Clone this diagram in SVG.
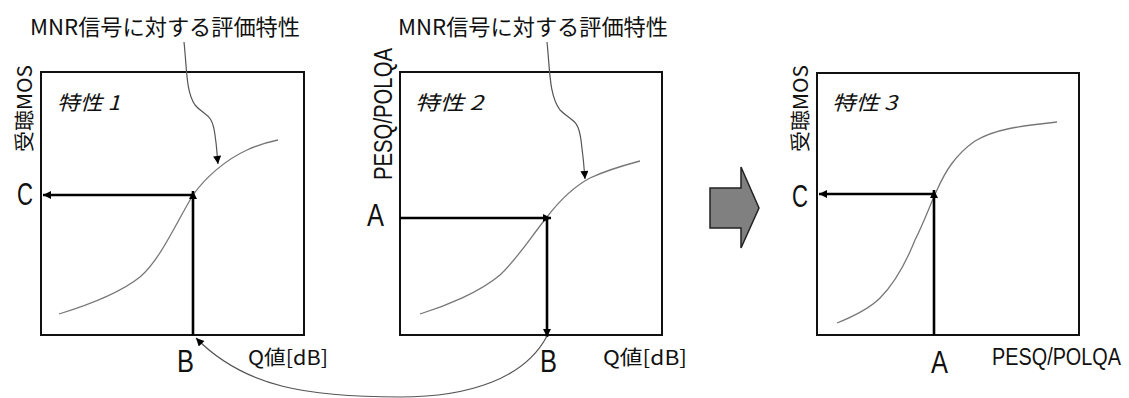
<svg xmlns="http://www.w3.org/2000/svg" width="1129" height="398" viewBox="0 0 1129 398">
<style>
.frame{fill:none;stroke:#111;stroke-width:2}
.arr{fill:none;stroke:#000;stroke-width:2.6}
.curve{fill:none;stroke:#777;stroke-width:1.3}
.call{fill:none;stroke:#555;stroke-width:1.2}
.t{font-family:"Noto Sans CJK JP","Liberation Sans",sans-serif;fill:#111}
.lat{font-family:"Liberation Sans","Noto Sans CJK JP",sans-serif;fill:#111}
.it{font-style:italic}
</style>
<defs>
<marker id="ahs" viewBox="0 0 10 10" refX="10" refY="5" markerWidth="9" markerHeight="8" markerUnits="userSpaceOnUse" orient="auto">
<path d="M0,0 L10,5 L0,10 z" fill="#000"/>
</marker>
</defs>

<g id="panel1">
<rect class="frame" x="41" y="72" width="263" height="263"/>
<path class="curve" d="M59,314 C85,306 120,293 140,277 C160,260 175,225 193,195 C205,178 225,160 247,150 C258,145 268,142 278,140"/>
<text class="t it" x="57" y="110" font-size="20" textLength="63" lengthAdjust="spacingAndGlyphs">特性 1</text>
<text class="t" transform="translate(32,152) rotate(-90)" font-size="20" textLength="87" lengthAdjust="spacingAndGlyphs">受聴MOS</text>
<text class="lat" x="17" y="205" font-size="31" textLength="16" lengthAdjust="spacingAndGlyphs">C</text>
<text class="lat" x="177" y="372" font-size="31" textLength="17" lengthAdjust="spacingAndGlyphs">B</text>
<text class="t" x="248" y="365" font-size="20" textLength="80" lengthAdjust="spacingAndGlyphs">Q値[dB]</text>
<text class="t" x="30" y="35" font-size="22" textLength="270" lengthAdjust="spacingAndGlyphs">MNR信号に対する評価特性</text>
</g>

<g id="panel2">
<rect class="frame" x="400" y="72" width="262" height="263"/>
<path class="curve" d="M420,314 C446,306 480,292 500,275 C518,258 530,238 547,217 C560,200 575,186 590,178 C607,170 625,165 640,161"/>
<text class="t it" x="415" y="110" font-size="20" textLength="68" lengthAdjust="spacingAndGlyphs">特性 2</text>
<text class="lat" transform="translate(392,180) rotate(-90)" font-size="26" textLength="132" lengthAdjust="spacingAndGlyphs">PESQ/POLQA</text>
<text class="lat" x="367" y="226" font-size="31" textLength="17" lengthAdjust="spacingAndGlyphs">A</text>
<text class="lat" x="540" y="372" font-size="31" textLength="17" lengthAdjust="spacingAndGlyphs">B</text>
<text class="t" x="603" y="365" font-size="20" textLength="84" lengthAdjust="spacingAndGlyphs">Q値[dB]</text>
<text class="t" x="398" y="35" font-size="22" textLength="270" lengthAdjust="spacingAndGlyphs">MNR信号に対する評価特性</text>
</g>

<g id="bigArrow">
<path d="M710,188 L741,188 L741,167 L759,208 L741,248 L741,228 L710,228 Z" fill="#808080" stroke="#222" stroke-width="1.5"/>
</g>

<g id="panel3">
<rect class="frame" x="817" y="73" width="262" height="262"/>
<path class="curve" d="M837,323 C852,317 868,310 880,298 C895,283 905,265 915,240 C924,222 930,205 937,190 C945,172 955,155 975,141 C995,129 1020,126 1057,122"/>
<text class="t it" x="832" y="110" font-size="20" textLength="65" lengthAdjust="spacingAndGlyphs">特性 3</text>
<text class="t" transform="translate(808,152) rotate(-90)" font-size="20" textLength="87" lengthAdjust="spacingAndGlyphs">受聴MOS</text>
<text class="lat" x="792" y="207" font-size="31" textLength="16" lengthAdjust="spacingAndGlyphs">C</text>
<text class="lat" x="931" y="373" font-size="31" textLength="17" lengthAdjust="spacingAndGlyphs">A</text>
<text class="lat" transform="translate(992,365) scale(1,1.3)" font-size="19" textLength="129" lengthAdjust="spacingAndGlyphs">PESQ/POLQA</text>
</g>

<g id="connectors">
<line class="arr" x1="193" y1="335" x2="193" y2="191" marker-end="url(#ahs)"/>
<line class="arr" x1="193" y1="195" x2="43" y2="195" marker-end="url(#ahs)"/>
<line class="arr" x1="400" y1="218" x2="551" y2="218" marker-end="url(#ahs)"/>
<line class="arr" x1="547" y1="218" x2="547" y2="337" marker-end="url(#ahs)"/>
<line class="arr" x1="934" y1="335" x2="934" y2="190" marker-end="url(#ahs)"/>
<line class="arr" x1="934" y1="194" x2="819" y2="194" marker-end="url(#ahs)"/>
<path class="call" d="M184,42 C187,70 186,92 195,105 C205,117 212,112 215,135 C217,148 217,155 218,164" marker-end="url(#ahs)"/>
<path class="call" d="M547,42 C550,70 549,95 560,110 C572,122 578,118 581,140 C583,155 584,165 585,179" marker-end="url(#ahs)"/>
<path class="call" d="M547,336 C525,378 470,397 400,397 C310,397 245,388 196,338" marker-end="url(#ahs)"/>
</g>
</svg>
